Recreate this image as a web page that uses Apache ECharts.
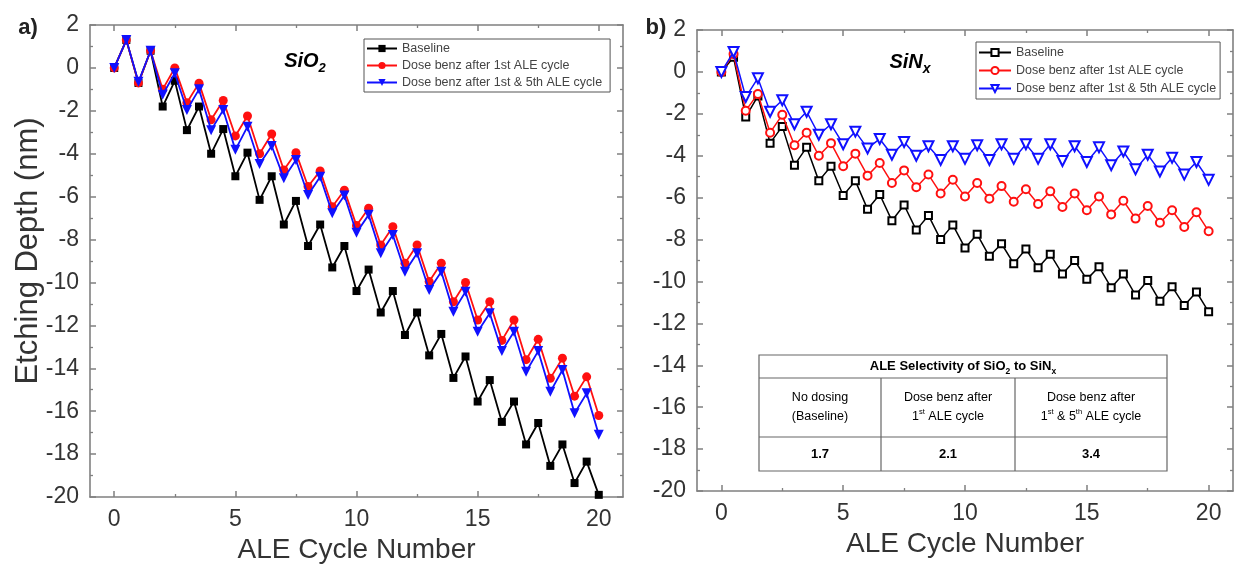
<!DOCTYPE html>
<html><head><meta charset="utf-8">
<script src="https://cdn.jsdelivr.net/npm/echarts@6.0.0/dist/echarts.min.js"></script>
<style>html,body{margin:0;padding:0;background:#fff}#c{width:1236px;height:568px}</style>
</head><body><div id="c"></div>
<script>
const cycles = [0,0.5,1,1.5,2,2.5,3,3.5,4,4.5,5,5.5,6,6.5,7,7.5,8,8.5,9,9.5,10,10.5,11,11.5,12,12.5,13,13.5,14,14.5,15,15.5,16,16.5,17,17.5,18,18.5,19,19.5,20];
const sio2Baseline = [0,1.3,-0.7,0.8,-1.8,-0.6,-2.9,-1.8,-4.0,-2.85,-5.05,-3.95,-6.15,-5.05,-7.3,-6.2,-8.3,-7.3,-9.3,-8.3,-10.4,-9.4,-11.4,-10.4,-12.45,-11.4,-13.4,-12.4,-14.45,-13.45,-15.55,-14.55,-16.5,-15.55,-17.55,-16.55,-18.55,-17.55,-19.35,-18.35,-19.9];
const sio2Dose1 = [0,1.3,-0.7,0.8,-1.0,0.0,-1.62,-0.71,-2.42,-1.52,-3.17,-2.24,-4.0,-3.08,-4.76,-3.95,-5.53,-4.8,-6.47,-5.7,-7.35,-6.54,-8.25,-7.4,-9.1,-8.25,-9.96,-9.1,-10.9,-10.0,-11.75,-10.9,-12.7,-11.75,-13.6,-12.65,-14.47,-13.53,-15.3,-14.4,-16.2];
const sio2Dose15 = [0,1.3,-0.65,0.8,-1.25,-0.25,-1.96,-1.0,-2.9,-1.96,-3.82,-2.74,-4.48,-3.64,-5.14,-4.29,-5.92,-5.07,-6.77,-5.95,-7.68,-6.85,-8.64,-7.79,-9.5,-8.64,-10.35,-9.5,-11.36,-10.43,-12.3,-11.44,-13.2,-12.3,-14.16,-13.2,-15.1,-14.08,-16.1,-15.17,-17.1];
const sinBaseline = [0,0.7,-2.15,-1.15,-3.4,-2.6,-4.45,-3.6,-5.2,-4.5,-5.9,-5.2,-6.55,-5.85,-7.1,-6.35,-7.55,-6.85,-8.0,-7.3,-8.4,-7.75,-8.8,-8.2,-9.15,-8.45,-9.35,-8.7,-9.65,-9.0,-9.9,-9.3,-10.3,-9.65,-10.65,-9.95,-10.95,-10.25,-11.15,-10.5,-11.45];
const sinDose1 = [0,0.85,-1.85,-1.05,-2.9,-2.05,-3.5,-2.9,-4.0,-3.4,-4.5,-3.9,-4.95,-4.35,-5.3,-4.7,-5.5,-4.9,-5.8,-5.15,-5.95,-5.3,-6.05,-5.45,-6.2,-5.6,-6.3,-5.7,-6.45,-5.8,-6.6,-5.95,-6.8,-6.15,-7.0,-6.4,-7.2,-6.6,-7.4,-6.7,-7.6];
const sinDose15 = [0,0.95,-1.2,-0.3,-1.9,-1.35,-2.5,-1.9,-3.0,-2.5,-3.45,-2.85,-3.65,-3.2,-3.95,-3.35,-4.0,-3.55,-4.2,-3.55,-4.15,-3.5,-4.2,-3.45,-4.15,-3.45,-4.15,-3.45,-4.25,-3.55,-4.3,-3.6,-4.45,-3.8,-4.65,-3.95,-4.75,-4.1,-4.9,-4.3,-5.15];
const seriesNames = ['Baseline','Dose benz after 1st ALE cycle','Dose benz after 1st & 5th ALE cycle'];
const xMajorTicks = [0,5,10,15,20];
const xMinorTicks = [2.5,7.5,12.5,17.5];
const selectivityHeader = ['No dosing','Dose benz after','Dose benz after'];
const selectivityValues = ['1.7','2.1','3.4'];

const FONT = 'Liberation Sans, Arial, Helvetica, sans-serif';
const FRAME = '#808080';
const colors = ['#000000','#ff1010','#1010ff'];

function pairs(vals){ return cycles.map((x,i)=>[x, vals[i]]); }

function xAxesFor(g){
  const base = {gridIndex:g, type:'value', min:-1, max:21, splitLine:{show:false}};
  return [
    Object.assign({}, base, {position:'bottom', name:'ALE Cycle Number', nameLocation:'middle', nameGap:36,
      nameTextStyle:{fontSize:28, color:'#333', fontFamily:FONT},
      axisLine:{show:true,onZero:false,lineStyle:{color:FRAME,width:1.6}},
      axisTick:{show:true,inside:true,length:6,customValues:xMajorTicks,lineStyle:{color:FRAME,width:1.5}},
      axisLabel:{show:true,customValues:xMajorTicks,fontSize:23,color:'#333',margin:11,fontFamily:FONT}}),
    Object.assign({}, base, {position:'bottom',
      axisLine:{show:false,onZero:false}, axisTick:{show:true,inside:true,length:3,customValues:xMinorTicks,lineStyle:{color:FRAME,width:1.3}},
      axisLabel:{show:false}}),
    Object.assign({}, base, {position:'top',
      axisLine:{show:true,onZero:false,lineStyle:{color:FRAME,width:1.6}},
      axisTick:{show:true,inside:true,length:6,customValues:xMajorTicks,lineStyle:{color:FRAME,width:1.5}},
      axisLabel:{show:false}}),
    Object.assign({}, base, {position:'top',
      axisLine:{show:false,onZero:false}, axisTick:{show:true,inside:true,length:3,customValues:xMinorTicks,lineStyle:{color:FRAME,width:1.3}},
      axisLabel:{show:false}})
  ];
}
function yAxesFor(g){
  const base = {gridIndex:g, type:'value', min:-20, max:2, interval:2, splitLine:{show:false},
    axisLine:{show:true,onZero:false,lineStyle:{color:FRAME,width:1.6}},
    axisTick:{show:true,inside:true,length:6,lineStyle:{color:FRAME,width:1.5}},
    minorTick:{show:true,splitNumber:2,length:3,lineStyle:{color:FRAME,width:1.3}}};
  return [
    Object.assign({}, base, {position:'left', axisLabel:{show:true,fontSize:23,color:'#333',margin:11,fontFamily:FONT}}),
    Object.assign({}, base, {position:'right', axisLabel:{show:false}})
  ];
}

function filledSeries(idx, vals){
  const sym = ['rect','circle','triangle'][idx];
  const size = [8,9,10][idx];
  return {name:seriesNames[idx], type:'line', xAxisIndex:0, yAxisIndex:0, data:pairs(vals),
    symbol:sym, symbolSize:size, symbolRotate: idx===2?180:0, showAllSymbol:true,
    lineStyle:{color:colors[idx],width:1.8}, itemStyle:{color:colors[idx]}, z:2+idx, animation:false};
}
function hollowSeries(idx, vals){
  const sym = ['emptyRect','emptyCircle','emptyTriangle'][idx];
  const size = [7,8,10][idx];
  return {name:seriesNames[idx]+' ', type:'line', xAxisIndex:4, yAxisIndex:2, data:pairs(vals),
    symbol:sym, symbolSize:size, symbolRotate: idx===2?180:0, showAllSymbol:true,
    lineStyle:{color:colors[idx],width:1.5}, itemStyle:{color:colors[idx],borderColor:colors[idx],borderWidth:1.5}, z:2+idx, animation:false};
}

function txt(x,y,text,rich,extra){
  return Object.assign({type:'text', x:x, y:y, silent:true,
    style:{text:text, rich:rich, align:'center', verticalAlign:'middle', fontFamily:FONT}}, extra||{});
}

// table
const T = {x0:759, x1:1167, y0:355, y1:471, r1:378, r2:437, c1:881, c2:1015};
const colCenters = [(T.x0+T.c1)/2, (T.c1+T.c2)/2, (T.c2+T.x1)/2];
const rowTxt = {fontSize:12.5, color:'#555', fontFamily:FONT, lineHeight:19};
const supTxt = {fontSize:7.5, color:'#555', fontFamily:FONT, verticalAlign:'top', lineHeight:19, padding:[0,0,6,0]};
const secondLines = [
  '{r|(Baseline)}',
  '{r|1}{sup|st}{r| ALE cycle}',
  '{r|1}{sup|st}{r| & 5}{sup|th}{r| ALE cycle}'
];
const tableEls = [
  {type:'rect', shape:{x:T.x0,y:T.y0,width:T.x1-T.x0,height:T.y1-T.y0}, style:{fill:'#fff',stroke:'#666',lineWidth:1.2}, silent:true, z:10},
  {type:'line', shape:{x1:T.x0,y1:T.r1,x2:T.x1,y2:T.r1}, style:{stroke:'#666',lineWidth:1.2}, silent:true, z:11},
  {type:'line', shape:{x1:T.x0,y1:T.r2,x2:T.x1,y2:T.r2}, style:{stroke:'#666',lineWidth:1.2}, silent:true, z:11},
  {type:'line', shape:{x1:T.c1,y1:T.r1,x2:T.c1,y2:T.y1}, style:{stroke:'#666',lineWidth:1.2}, silent:true, z:11},
  {type:'line', shape:{x1:T.c2,y1:T.r1,x2:T.c2,y2:T.y1}, style:{stroke:'#666',lineWidth:1.2}, silent:true, z:11},
  txt((T.x0+T.x1)/2, (T.y0+T.r1)/2, '{b|ALE Selectivity of SiO}{bs|2}{b| to SiN}{bs|x}',
    {b:{fontSize:13,fontWeight:'bold',color:'#333',fontFamily:FONT,lineHeight:20},
     bs:{fontSize:8.5,fontWeight:'bold',color:'#333',fontFamily:FONT,verticalAlign:'bottom',lineHeight:14}}, {z:12})
];
for (let i=0;i<3;i++){
  tableEls.push(txt(colCenters[i], (T.r1+T.r2)/2, '{r|'+selectivityHeader[i]+'}\n'+secondLines[i], {r:rowTxt, sup:supTxt}, {z:12}));
  tableEls.push(txt(colCenters[i], (T.r2+T.y1)/2, '{v|'+selectivityValues[i]+'}', {v:{fontSize:13,fontWeight:'bold',color:'#333',fontFamily:FONT}}, {z:12}));
}

const option = {
  animation:false,
  textStyle:{fontFamily:FONT},
  grid:[
    {left:90, top:25, width:533, height:472, outerBoundsMode:'none', containLabel:false},
    {left:697, top:30, width:536, height:461, outerBoundsMode:'none', containLabel:false}
  ],
  xAxis: xAxesFor(0).concat(xAxesFor(1)),
  yAxis: yAxesFor(0).concat(yAxesFor(1)),
  legend:[
    {data:seriesNames.slice(), orient:'vertical', left:364, top:39, itemWidth:30, itemHeight:9, itemGap:4,
     padding:[3,8,3,2], borderColor:'#555', borderWidth:1, backgroundColor:'#fff', selectedMode:false,
     textStyle:{fontSize:12.5, color:'#444', fontFamily:FONT}},
    {data:seriesNames.map(n=>n+' '), orient:'vertical', left:976, top:42, itemWidth:32, itemHeight:9, itemGap:5,
     padding:[4,4,4,2], borderColor:'#555', borderWidth:1, backgroundColor:'#fff', selectedMode:false,
     formatter:n=>n.trim(), textStyle:{fontSize:12.5, color:'#444', fontFamily:FONT}}
  ],
  graphic:[
    txt(28, 28, 'a)', null, {style:{text:'a)', fontSize:22, fontWeight:'bold', fill:'#222', align:'center', verticalAlign:'middle', fontFamily:FONT}}),
    txt(656, 28, 'b)', null, {style:{text:'b)', fontSize:22, fontWeight:'bold', fill:'#222', align:'center', verticalAlign:'middle', fontFamily:FONT}}),
    {type:'text', x:28, y:251, rotation:Math.PI/2, silent:true,
     style:{text:'Etching Depth (nm)', fontSize:31, fill:'#333', align:'center', verticalAlign:'middle', fontFamily:FONT}},
    txt(305, 61, '{m|SiO}{s|2}', {m:{fontSize:20,fontStyle:'italic',fontWeight:'bold',color:'#222',fontFamily:FONT,lineHeight:28},
      s:{fontSize:13,fontStyle:'italic',fontWeight:'bold',color:'#222',fontFamily:FONT,verticalAlign:'bottom',lineHeight:17}}),
    txt(910, 62, '{m|SiN}{s|x}', {m:{fontSize:20,fontStyle:'italic',fontWeight:'bold',color:'#222',fontFamily:FONT,lineHeight:28},
      s:{fontSize:14,fontStyle:'italic',fontWeight:'bold',color:'#222',fontFamily:FONT,verticalAlign:'bottom',lineHeight:17}})
  ].concat(tableEls),
  series:[
    filledSeries(0, sio2Baseline), filledSeries(1, sio2Dose1), filledSeries(2, sio2Dose15),
    hollowSeries(0, sinBaseline), hollowSeries(1, sinDose1), hollowSeries(2, sinDose15)
  ]
};
const chart = echarts.init(document.getElementById('c'), null, {renderer:'canvas'});
chart.setOption(option);
</script>
</body></html>
